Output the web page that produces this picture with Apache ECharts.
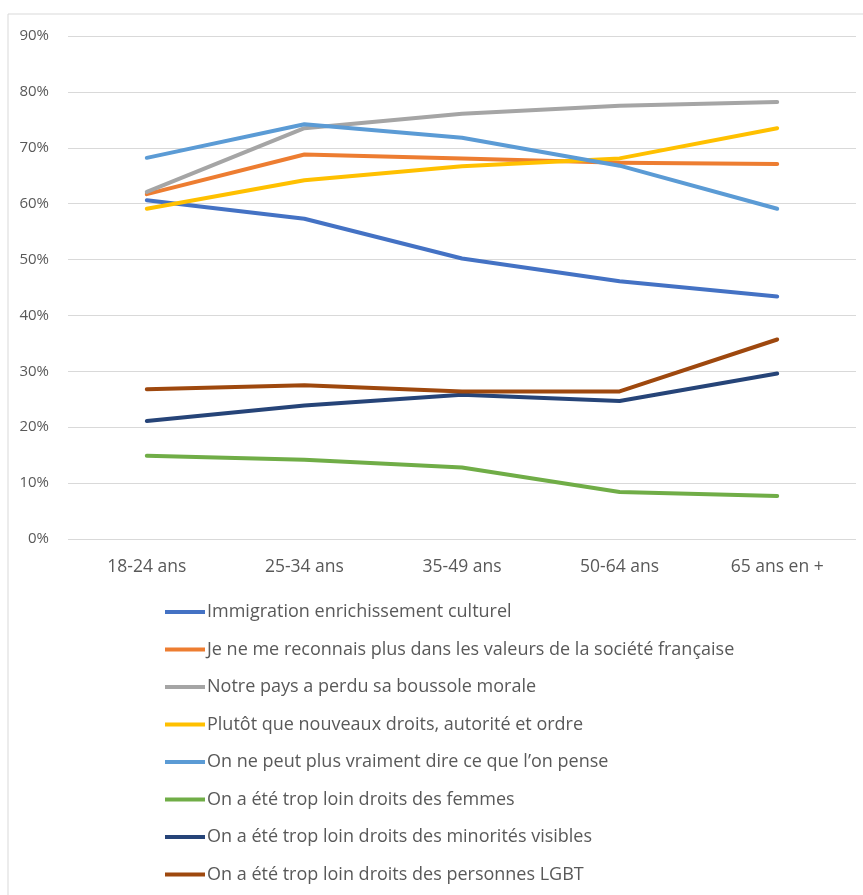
<!DOCTYPE html>
<html>
<head>
<meta charset="utf-8">
<script src="https://cdn.jsdelivr.net/npm/echarts@6/dist/echarts.min.js"></script>
<style>
  html, body { margin: 0; padding: 0; background: #fff; }
  #chart { width: 863px; height: 895px; }
</style>
</head>
<body>
<div id="chart"></div>
<script>
// tranches d'âge
const categories = ['18-24 ans', '25-34 ans', '35-49 ans', '50-64 ans', '65 ans en +']

const immigration = [60.6, 57.3, 50.2, 46.1, 43.4]
const reconnaisPlus = [61.7, 68.8, 68.1, 67.3, 67.1]
const boussole = [62.1, 73.5, 76.1, 77.5, 78.2]
const autorite = [59.1, 64.2, 66.7, 68.1, 73.5]
const direPense = [68.2, 74.2, 71.8, 66.8, 59.1]
const femmes = [14.9, 14.2, 12.8, 8.4, 7.7]
const minorites = [21.1, 23.9, 25.8, 24.7, 29.6]
const lgbt = [26.8, 27.5, 26.4, 26.4, 35.7]

const seriesNames = [
  'Immigration enrichissement culturel',
  'Je ne me reconnais plus dans les valeurs de la société française',
  'Notre pays a perdu sa boussole morale',
  'Plutôt que nouveaux droits, autorité et ordre',
  'On ne peut plus vraiment dire ce que l’on pense',
  'On a été trop loin droits des femmes',
  'On a été trop loin droits des minorités visibles',
  'On a été trop loin droits des personnes LGBT'
]
const seriesData = [immigration, reconnaisPlus, boussole, autorite, direPense, femmes, minorites, lgbt]
const colors = ['#4472C4', '#ED7D31', '#A5A5A5', '#FFC000', '#5B9BD5', '#70AD47', '#264478', '#9E480E']

const fontFamily = "'Open Sans', sans-serif"

const chart = echarts.init(document.getElementById('chart'))

let series = seriesData.map((d, i) => ({
  name: seriesNames[i],
  type: 'line',
  data: d,
  showSymbol: false,
  symbol: 'none',
  lineStyle: { width: 4, color: colors[i], cap: 'round', join: 'round' },
  itemStyle: { color: colors[i] }
}))

chart.setOption({
  animation: false,
  color: colors,
  graphic: [{
    type: 'rect',
    shape: { x: 8, y: 14, width: 900, height: 900 },
    style: { fill: 'none', stroke: '#D9D9D9', lineWidth: 1 },
    silent: true
  }],
  grid: { left: 68, right: 7, top: 36, bottom: 356 },
  xAxis: {
    type: 'category',
    data: categories,
    axisLine: { show: false },
    axisTick: { show: false },
    axisLabel: { color: '#595959', fontSize: 17.5, margin: 19, fontFamily: fontFamily }
  },
  yAxis: {
    type: 'value',
    min: 0,
    max: 90,
    interval: 10,
    axisLine: { show: false },
    axisTick: { show: false },
    axisLabel: { color: '#595959', fontSize: 15, margin: 19, formatter: '{value}%', fontFamily: fontFamily },
    splitLine: { lineStyle: { color: '#D9D9D9', width: 1 } }
  },
  legend: {
    orient: 'vertical',
    left: 160,
    top: 598,
    icon: 'rect',
    itemWidth: 40,
    itemHeight: 4,
    itemGap: 19.5,
    textStyle: { color: '#595959', fontSize: 18, lineHeight: 18, fontFamily: fontFamily, padding: [0, 0, 0, -3] },
    data: seriesNames
  },
  series: series
})
</script>
</body>
</html>
